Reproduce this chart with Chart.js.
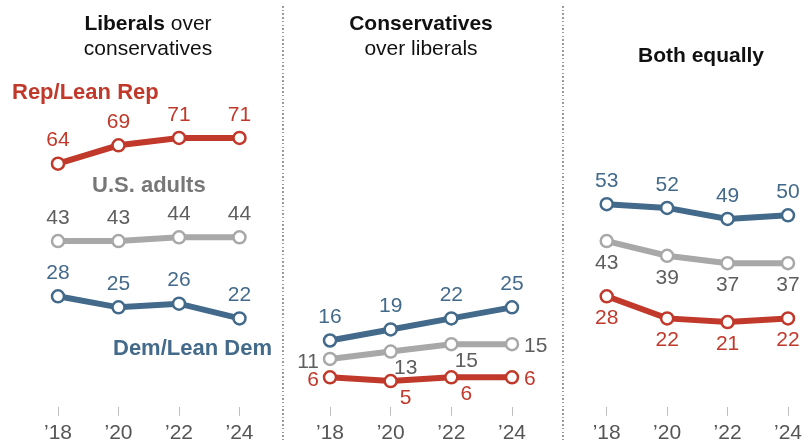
<!DOCTYPE html>
<html>
<head>
<meta charset="utf-8">
<script src="https://cdn.jsdelivr.net/npm/chart.js@4"></script>
<style>
  body { margin: 0; background: #fff; }
  #wrap { position: relative; width: 810px; height: 443px; overflow: hidden; font-family: "Liberation Sans", Arial, sans-serif; }
  canvas { position: absolute; top: 0; }
  .title { position: absolute; font-size: 21px; line-height: 25px; color: #111; text-align: center; }
  .title b { font-weight: bold; }
  .serie { position: absolute; font-size: 22px; line-height: 26px; font-weight: bold; white-space: nowrap; }
  .divisor { position: absolute; top: 6px; bottom: 0; width: 2px;
    background: repeating-linear-gradient(to bottom, #9a9a9a 0 1.5px, transparent 1.5px 3.7px); }
</style>
</head>
<body>
<div id="wrap">
  <canvas id="graficoLiberais" width="283" height="451" style="left:0px"></canvas>
  <canvas id="graficoConservadores" width="278" height="451" style="left:284px"></canvas>
  <canvas id="graficoAmbos" width="246" height="451" style="left:564px"></canvas>

  <div class="divisor" style="left:282px"></div>
  <div class="divisor" style="left:562px"></div>

  <div class="title" style="left:48px; width:200px; top:10px"><b>Liberals</b> over<br>conservatives</div>
  <div class="title" style="left:321px; width:200px; top:10px"><b>Conservatives</b><br>over liberals</div>
  <div class="title" style="left:601px; width:200px; top:42px"><b>Both equally</b></div>

  <div class="serie" style="left:12px; top:79px; color:#c0392b">Rep/Lean Rep</div>
  <div class="serie" style="left:92px; top:172px; color:#777777">U.S. adults</div>
  <div class="serie" style="left:113px; top:335px; color:#436a8a">Dem/Lean Dem</div>
</div>

<script>
// anos
var anos = ['\u201918', '\u201920', '\u201922', '\u201924']

// Liberals over conservatives
var liberaisRep = [64, 69, 71, 71]
var liberaisAdultos = [43, 43, 44, 44]
var liberaisDem = [28, 25, 26, 22]

// Conservatives over liberals
var conservadoresRep = [6, 5, 6, 6]
var conservadoresAdultos = [11, 13, 15, 15]
var conservadoresDem = [16, 19, 22, 25]

// Both equally
var ambosRep = [28, 22, 21, 22]
var ambosAdultos = [43, 39, 37, 37]
var ambosDem = [53, 52, 49, 50]

var corRep = '#c0392b'
var corAdultos = '#a8a8a8'
var corDem = '#436a8a'
var corTextoAdultos = '#5e5e5e'
var fonte = '"Liberation Sans", Arial, sans-serif'

// desenha os numeros perto de cada ponto
const rotulos = {
    id: 'rotulos',
    afterDatasetsDraw(chart) {
        const c = chart.ctx
        c.save()
        c.font = '21px ' + fonte
        c.textBaseline = 'middle'
        chart.data.datasets.forEach((ds, i) => {
            const meta = chart.getDatasetMeta(i)
            meta.data.forEach((pt, j) => {
                const lado = ds.lados[j]
                let x = pt.x, y = pt.y
                c.textAlign = 'center'
                if (lado == 'top') { y -= 23 }
                else if (lado == 'bottom') { y += 22 }
                else if (lado == 'left') { c.textAlign = 'right'; x -= 11; y += 3 }
                else if (lado == 'right') { c.textAlign = 'left'; x += 12; y += 2 }
                else if (lado == 'br') { x += 15; y += 17 }
                c.fillStyle = ds.corTexto
                c.fillText(ds.data[j], x, y)
            })
        })
        c.restore()
    }
}

function serie(dados, cor, corTexto, lados) {
    return {
        data: dados,
        borderColor: cor,
        borderWidth: 6,
        pointRadius: 6,
        pointBorderWidth: 2.5,
        pointBackgroundColor: '#fff',
        pointBorderColor: cor,
        corTexto: corTexto,
        lados: lados,
        tension: 0
    }
}

function criarGrafico(id, datasets, padEsq, padDir) {
    return new Chart(document.getElementById(id), {
        type: 'line',
        data: {
            labels: anos,
            datasets: datasets
        },
        options: {
            responsive: false,
            animation: false,
            devicePixelRatio: 1,
            layout: { padding: { left: padEsq, right: padDir, top: 119.5, bottom: 0 } },
            plugins: { legend: { display: false }, tooltip: { enabled: false } },
            scales: {
                x: {
                    border: { display: false },
                    grid: { drawOnChartArea: false, drawTicks: true, tickLength: 9, color: '#bdbdbd' },
                    ticks: { color: '#555', padding: 5, font: { size: 21, family: fonte, lineHeight: 1.2 } }
                },
                y: {
                    display: false,
                    min: -2,
                    max: 76
                }
            }
        },
        plugins: [rotulos]
    })
}

var topo = ['top', 'top', 'top', 'top']
var baixo = ['bottom', 'bottom', 'bottom', 'bottom']
var lateral = ['left', 'br', 'br', 'right']

var chartLiberais = criarGrafico('graficoLiberais', [
    serie(liberaisDem, corDem, corDem, topo),
    serie(liberaisAdultos, corAdultos, corTextoAdultos, topo),
    serie(liberaisRep, corRep, corRep, topo)
], 58, 43.5)

var chartConservadores = criarGrafico('graficoConservadores', [
    serie(conservadoresDem, corDem, corDem, topo),
    serie(conservadoresAdultos, corAdultos, corTextoAdultos, lateral),
    serie(conservadoresRep, corRep, corRep, lateral)
], 46, 50)

var chartAmbos = criarGrafico('graficoAmbos', [
    serie(ambosDem, corDem, corDem, topo),
    serie(ambosAdultos, corAdultos, corTextoAdultos, baixo),
    serie(ambosRep, corRep, corRep, baixo)
], 42.7, 22)
</script>
</body>
</html>
